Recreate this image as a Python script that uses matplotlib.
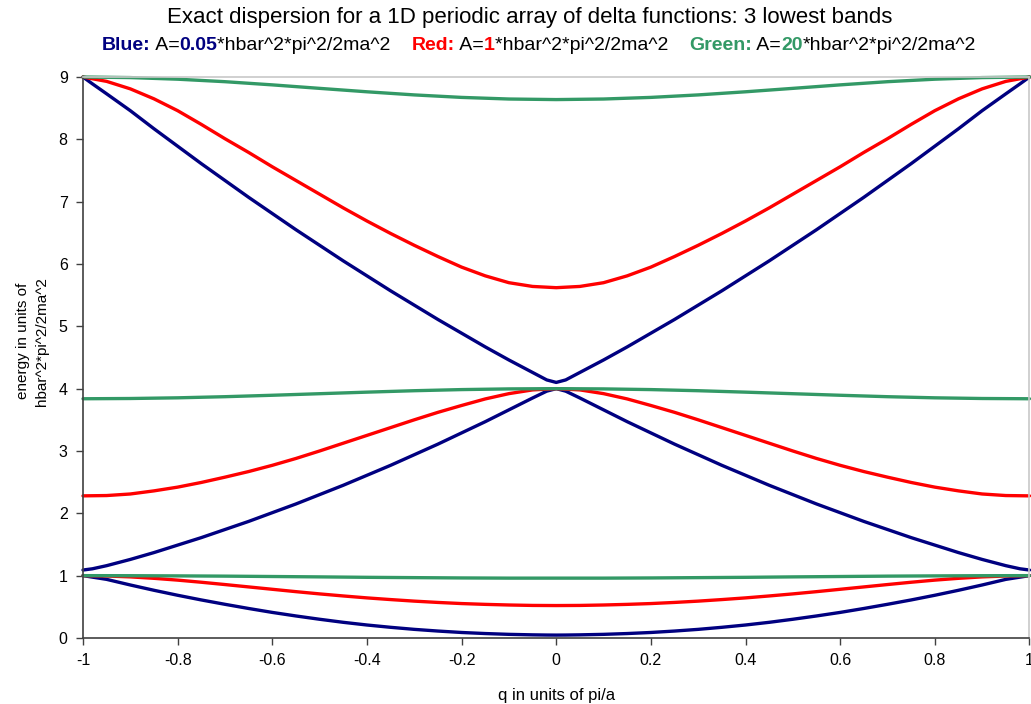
import numpy as np
import matplotlib.pyplot as plt

plt.rcParams['font.family'] = ['Liberation Sans', 'DejaVu Sans']

# q in units of pi/a
q = [-1, -0.95, -0.9, -0.85, -0.8, -0.75, -0.7, -0.65, -0.6, -0.55, -0.5,
     -0.45, -0.4, -0.35, -0.3, -0.25, -0.2, -0.15, -0.1, -0.05, 0,
     0.05, 0.1, 0.15, 0.2, 0.25, 0.3, 0.35, 0.4, 0.45, 0.5,
     0.55, 0.6, 0.65, 0.7, 0.75, 0.8, 0.85, 0.9, 0.95, 1]
q_green = [-1, -0.9, -0.8, -0.7, -0.6, -0.5, -0.4, -0.3, -0.2, -0.1, 0,
           0.1, 0.2, 0.3, 0.4, 0.5, 0.6, 0.7, 0.8, 0.9, 1]
# blue curves get a few extra points near the gaps
q_blue = [-1, -0.98, -0.95, -0.9, -0.85, -0.8, -0.75, -0.7, -0.65, -0.6, -0.55,
          -0.5, -0.45, -0.4, -0.35, -0.3, -0.25, -0.2, -0.15, -0.1, -0.05, -0.02, 0,
          0.02, 0.05, 0.1, 0.15, 0.2, 0.25, 0.3, 0.35, 0.4, 0.45, 0.5,
          0.55, 0.6, 0.65, 0.7, 0.75, 0.8, 0.85, 0.9, 0.95, 0.98, 1]

# A = 0.05 (blue)
blue_1 = [1.0, 0.976, 0.94, 0.85, 0.765, 0.685, 0.61, 0.54, 0.473, 0.41, 0.353,
          0.30, 0.251, 0.208, 0.171, 0.138, 0.111, 0.088, 0.071, 0.058, 0.050, 0.047, 0.046,
          0.047, 0.050, 0.058, 0.071, 0.088, 0.111, 0.138, 0.171, 0.208, 0.251, 0.30,
          0.353, 0.41, 0.473, 0.54, 0.61, 0.685, 0.765, 0.85, 0.94, 0.976, 1.0]
blue_2 = [1.09, 1.11, 1.16, 1.26, 1.37, 1.49, 1.61, 1.74, 1.87, 2.01, 2.15,
          2.30, 2.45, 2.61, 2.77, 2.94, 3.11, 3.29, 3.47, 3.66, 3.85, 3.96, 4.0,
          3.96, 3.85, 3.66, 3.47, 3.29, 3.11, 2.94, 2.77, 2.61, 2.45, 2.30,
          2.15, 2.01, 1.87, 1.74, 1.61, 1.49, 1.37, 1.26, 1.16, 1.11, 1.09]
blue_3 = [9.0, 8.89, 8.73, 8.46, 8.17, 7.89, 7.61, 7.34, 7.07, 6.81, 6.55,
          6.30, 6.05, 5.81, 5.57, 5.34, 5.11, 4.89, 4.67, 4.46, 4.26, 4.14, 4.10,
          4.14, 4.26, 4.46, 4.67, 4.89, 5.11, 5.34, 5.57, 5.81, 6.05, 6.30,
          6.55, 6.81, 7.07, 7.34, 7.61, 7.89, 8.17, 8.46, 8.73, 8.89, 9.0]

# A = 1 (red)
red_1 = [1.0, 0.994, 0.980, 0.957, 0.928, 0.894, 0.857, 0.819, 0.781, 0.743, 0.707,
         0.674, 0.643, 0.616, 0.591, 0.570, 0.552, 0.539, 0.529, 0.522, 0.52,
         0.522, 0.529, 0.539, 0.552, 0.570, 0.591, 0.616, 0.643, 0.674, 0.707,
         0.743, 0.781, 0.819, 0.857, 0.894, 0.928, 0.957, 0.980, 0.994, 1.0]
red_2 = [2.28, 2.285, 2.31, 2.36, 2.42, 2.495, 2.58, 2.67, 2.77, 2.88, 3.00,
         3.125, 3.25, 3.375, 3.50, 3.62, 3.73, 3.835, 3.92, 3.98, 4.0,
         3.98, 3.92, 3.835, 3.73, 3.62, 3.50, 3.375, 3.25, 3.125, 3.00,
         2.88, 2.77, 2.67, 2.58, 2.495, 2.42, 2.36, 2.31, 2.285, 2.28]
red_3 = [9.0, 8.93, 8.81, 8.65, 8.46, 8.24, 8.01, 7.79, 7.56, 7.34, 7.12,
         6.90, 6.69, 6.49, 6.30, 6.12, 5.95, 5.81, 5.70, 5.64, 5.62,
         5.64, 5.70, 5.81, 5.95, 6.12, 6.30, 6.49, 6.69, 6.90, 7.12,
         7.34, 7.56, 7.79, 8.01, 8.24, 8.46, 8.65, 8.81, 8.93, 9.0]

# A = 20 (green)
green_1 = [1.0, 0.999, 0.996, 0.992, 0.986, 0.98, 0.973, 0.968, 0.963, 0.96, 0.96,
           0.96, 0.963, 0.968, 0.973, 0.98, 0.986, 0.992, 0.996, 0.999, 1.0]
green_2 = [3.838, 3.842, 3.853, 3.871, 3.894, 3.919, 3.944, 3.967, 3.985, 3.996, 4.0,
           3.996, 3.985, 3.967, 3.944, 3.919, 3.894, 3.871, 3.853, 3.842, 3.838]
green_3 = [9.0, 8.991, 8.965, 8.925, 8.874, 8.818, 8.763, 8.713, 8.673, 8.647, 8.638,
           8.647, 8.673, 8.713, 8.763, 8.818, 8.874, 8.925, 8.965, 8.991, 9.0]

xticks = [-1, -0.8, -0.6, -0.4, -0.2, 0, 0.2, 0.4, 0.6, 0.8, 1]
xtick_labels = ['-1', '-0.8', '-0.6', '-0.4', '-0.2', '0', '0.2', '0.4', '0.6', '0.8', '1']
yticks = [0, 1, 2, 3, 4, 5, 6, 7, 8, 9]

BLUE = '#000080'
RED = '#ff0000'
GREEN = '#339966'

fig = plt.figure(figsize=(10.31, 7.04), dpi=100)
ax = fig.add_axes([0.0805, 0.0938, 0.918, 0.7968])

lw = 2.4
for band in (blue_1, blue_2, blue_3):
    ax.plot(q_blue, band, color=BLUE, lw=lw, solid_capstyle='round', solid_joinstyle='round', clip_on=False)
for band in (red_1, red_2, red_3):
    ax.plot(q, band, color=RED, lw=lw, solid_capstyle='round', solid_joinstyle='round', clip_on=False)
for band in (green_1, green_2, green_3):
    ax.plot(q_green, band, color=GREEN, lw=lw, solid_capstyle='round', solid_joinstyle='round', clip_on=False)

ax.set_xlim(-1, 1)
ax.set_ylim(0, 9)
ax.set_xticks(xticks)
ax.set_xticklabels(xtick_labels)
ax.set_yticks(yticks)
ax.tick_params(direction='out', length=5, width=1, labelsize=11.5, color='#404040', pad=6)

for s in ('left', 'bottom'):
    ax.spines[s].set_color('#404040')
    ax.spines[s].set_linewidth(1.2)
for s in ('top', 'right'):
    ax.spines[s].set_color('#c8c8c8')
    ax.spines[s].set_linewidth(1.2)

ax.set_xlabel('q in units of pi/a', fontsize=12)
ax.xaxis.set_label_coords(0.5, -0.09)
ax.set_ylabel('energy in units of\nhbar^2*pi^2/2ma^2', fontsize=11, linespacing=1.45)
ax.yaxis.set_label_coords(-0.036, 0.529)

fig.text(530 / 1031, 1 - 17 / 704, 'Exact dispersion for a 1D periodic array of delta functions: 3 lowest bands',
         ha='center', va='center', fontsize=16)

# subtitle built from coloured pieces
pieces = [
    ('Blue:', BLUE, 'bold'), (' A=', 'black', 'normal'), ('0.05', BLUE, 'bold'),
    ('*hbar^2*pi^2/2ma^2    ', 'black', 'normal'),
    ('Red:', RED, 'bold'), (' A=', 'black', 'normal'), ('1', RED, 'bold'),
    ('*hbar^2*pi^2/2ma^2    ', 'black', 'normal'),
    ('Green:', GREEN, 'bold'), (' A=', 'black', 'normal'), ('20', GREEN, 'bold'),
    ('*hbar^2*pi^2/2ma^2', 'black', 'normal'),
]
y_sub = 1 - 45 / 704
texts = [fig.text(0, y_sub, t, color=c, fontweight=w, fontsize=14, ha='left', va='center')
         for t, c, w in pieces]
fig.canvas.draw()
r = fig.canvas.get_renderer()
widths = [t.get_window_extent(r).width for t in texts]
total = sum(widths)
x0 = 539 - total / 2
for t, w in zip(texts, widths):
    t.set_x(x0 / fig.bbox.width)
    x0 += w

fig.savefig('out.png', dpi=100)
